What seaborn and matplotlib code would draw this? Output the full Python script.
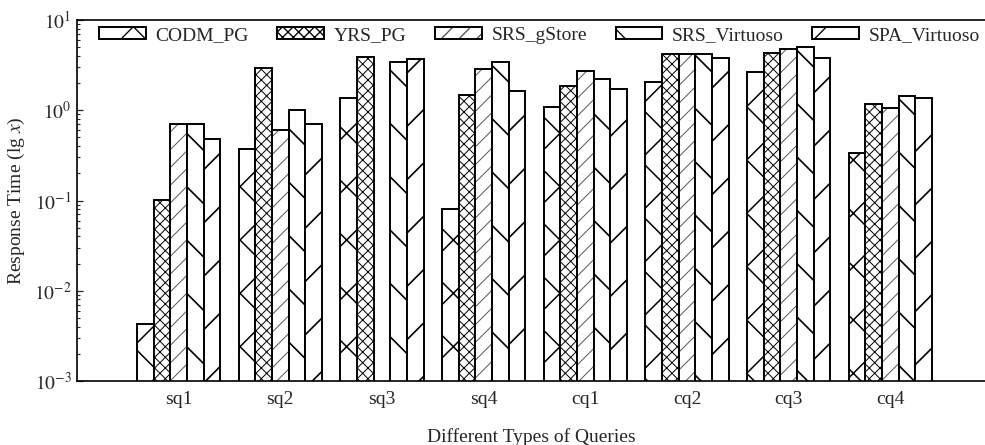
import numpy as np
import pandas as pd
import matplotlib
matplotlib.use("Agg")
import matplotlib.pyplot as plt
import matplotlib.patches as mpatches
from matplotlib.ticker import LogLocator, NullFormatter, FixedLocator
import seaborn as sns

queries = ["sq1", "sq2", "sq3", "sq4", "cq1", "cq2", "cq3", "cq4"]
systems = ["CODM_PG", "YRS_PG", "SRS_gStore", "SRS_Virtuoso", "SPA_Virtuoso"]
codm_pg = [0.0043, 0.37, 1.36, 0.080, 1.08, 2.07, 2.63, 0.333]
yrs_pg = [0.101, 2.96, 3.86, 1.47, 1.84, 4.16, 4.34, 1.17]
srs_gstore = [0.70, 0.60, np.nan, 2.86, 2.70, 4.16, 4.73, 1.07]
srs_virtuoso = [0.70, 1.00, 3.40, 3.42, 2.22, 4.16, 5.03, 1.44]
spa_virtuoso = [0.48, 0.70, 3.73, 1.65, 1.72, 3.76, 3.76, 1.38]
ytick_values = [1e-3, 1e-2, 1e-1, 1e0, 1e1]
ytick_labels = [r"$10^{-3}$", r"$10^{-2}$", r"$10^{-1}$", r"$10^{0}$", r"$10^{1}$"]

series = [codm_pg, yrs_pg, srs_gstore, srs_virtuoso, spa_virtuoso]
rows = []
for s, vals in zip(systems, series):
    for q, v in zip(queries, vals):
        rows.append({"query": q, "system": s, "value": v})
df = pd.DataFrame(rows)

sns.set_theme(style="white")
plt.rcParams["font.family"] = ["Liberation Serif", "DejaVu Serif"]
plt.rcParams["mathtext.fontset"] = "stix"
plt.rcParams["hatch.linewidth"] = 0.6

DPI = 160
K = 200 / DPI  # point scaling relative to the 200-dpi draft
fig = plt.figure(figsize=(985 / DPI, 445 / DPI), dpi=DPI)
ax = fig.add_axes([77 / 985, (445 - 381) / 445, 908 / 985, 361 / 445])

sns.barplot(data=df, x="query", y="value", hue="system", order=queries,
            hue_order=systems, palette=["white"] * 5, edgecolor="black",
            linewidth=0.7 * K, width=0.82, errorbar=None,
            legend=False, ax=ax, saturation=1)
ax.set_yscale("log")

hatches = ["x", "xxxxx", "///", "\\", "/"]
hatch_lw = [0.55 * K, 0.35 * K, 0.35 * K, 0.6 * K, 0.6 * K]
hatch_col = ["black", "black", "#555555", "black", "black"]
for cont, h, lw, hc in zip(ax.containers, hatches, hatch_lw, hatch_col):
    for p in cont:
        p.set_hatch(h)
        if hasattr(p, "set_hatch_linewidth"):
            p.set_hatch_linewidth(lw)
        p._hatch_color = matplotlib.colors.to_rgba(hc)

ax.set_ylim(1e-3, 10)
ax.set_xlim(-1, 7.93)
ax.yaxis.set_major_locator(FixedLocator(ytick_values))
ax.set_yticklabels(ytick_labels)
ax.yaxis.set_minor_locator(LogLocator(base=10, subs=np.arange(2, 10)))
ax.yaxis.set_minor_formatter(NullFormatter())
ax.tick_params(axis="y", which="major", direction="in", length=2.2 * K, width=0.45 * K,
               labelsize=7 * K, pad=2 * K, left=True)
ax.tick_params(axis="y", which="minor", direction="in", length=1.1 * K, width=0.4 * K,
               left=True)
ax.tick_params(axis="x", length=0, labelsize=7 * K, pad=3.5 * K)

for side in ["left", "top", "bottom"]:
    ax.spines[side].set_linewidth(0.6 * K)
    ax.spines[side].set_color("black")
ax.spines["right"].set_visible(False)

ax.set_xlabel("Different Types of Queries", fontsize=7 * K, labelpad=7.5 * K)
ax.set_ylabel(r"Response Time (lg $x$)", fontsize=7 * K, labelpad=2.3 * K)

handles = []
for h, lw, hc in zip(hatches, hatch_lw, hatch_col):
    p = mpatches.Patch(facecolor="white", edgecolor="black", hatch=h, linewidth=0.7 * K)
    if hasattr(p, "set_hatch_linewidth"):
        p.set_hatch_linewidth(lw)
    p._hatch_color = matplotlib.colors.to_rgba(hc)
    handles.append(p)
ax.legend(handles, systems, loc="upper left", bbox_to_anchor=(22 / 908, 1 - 7 / 361),
          ncol=5, frameon=False, fontsize=7 * K, handlelength=2.4, handleheight=0.6,
          handletextpad=0.5, columnspacing=1.47, borderpad=0, borderaxespad=0)

fig.savefig("out.png", dpi=DPI)
